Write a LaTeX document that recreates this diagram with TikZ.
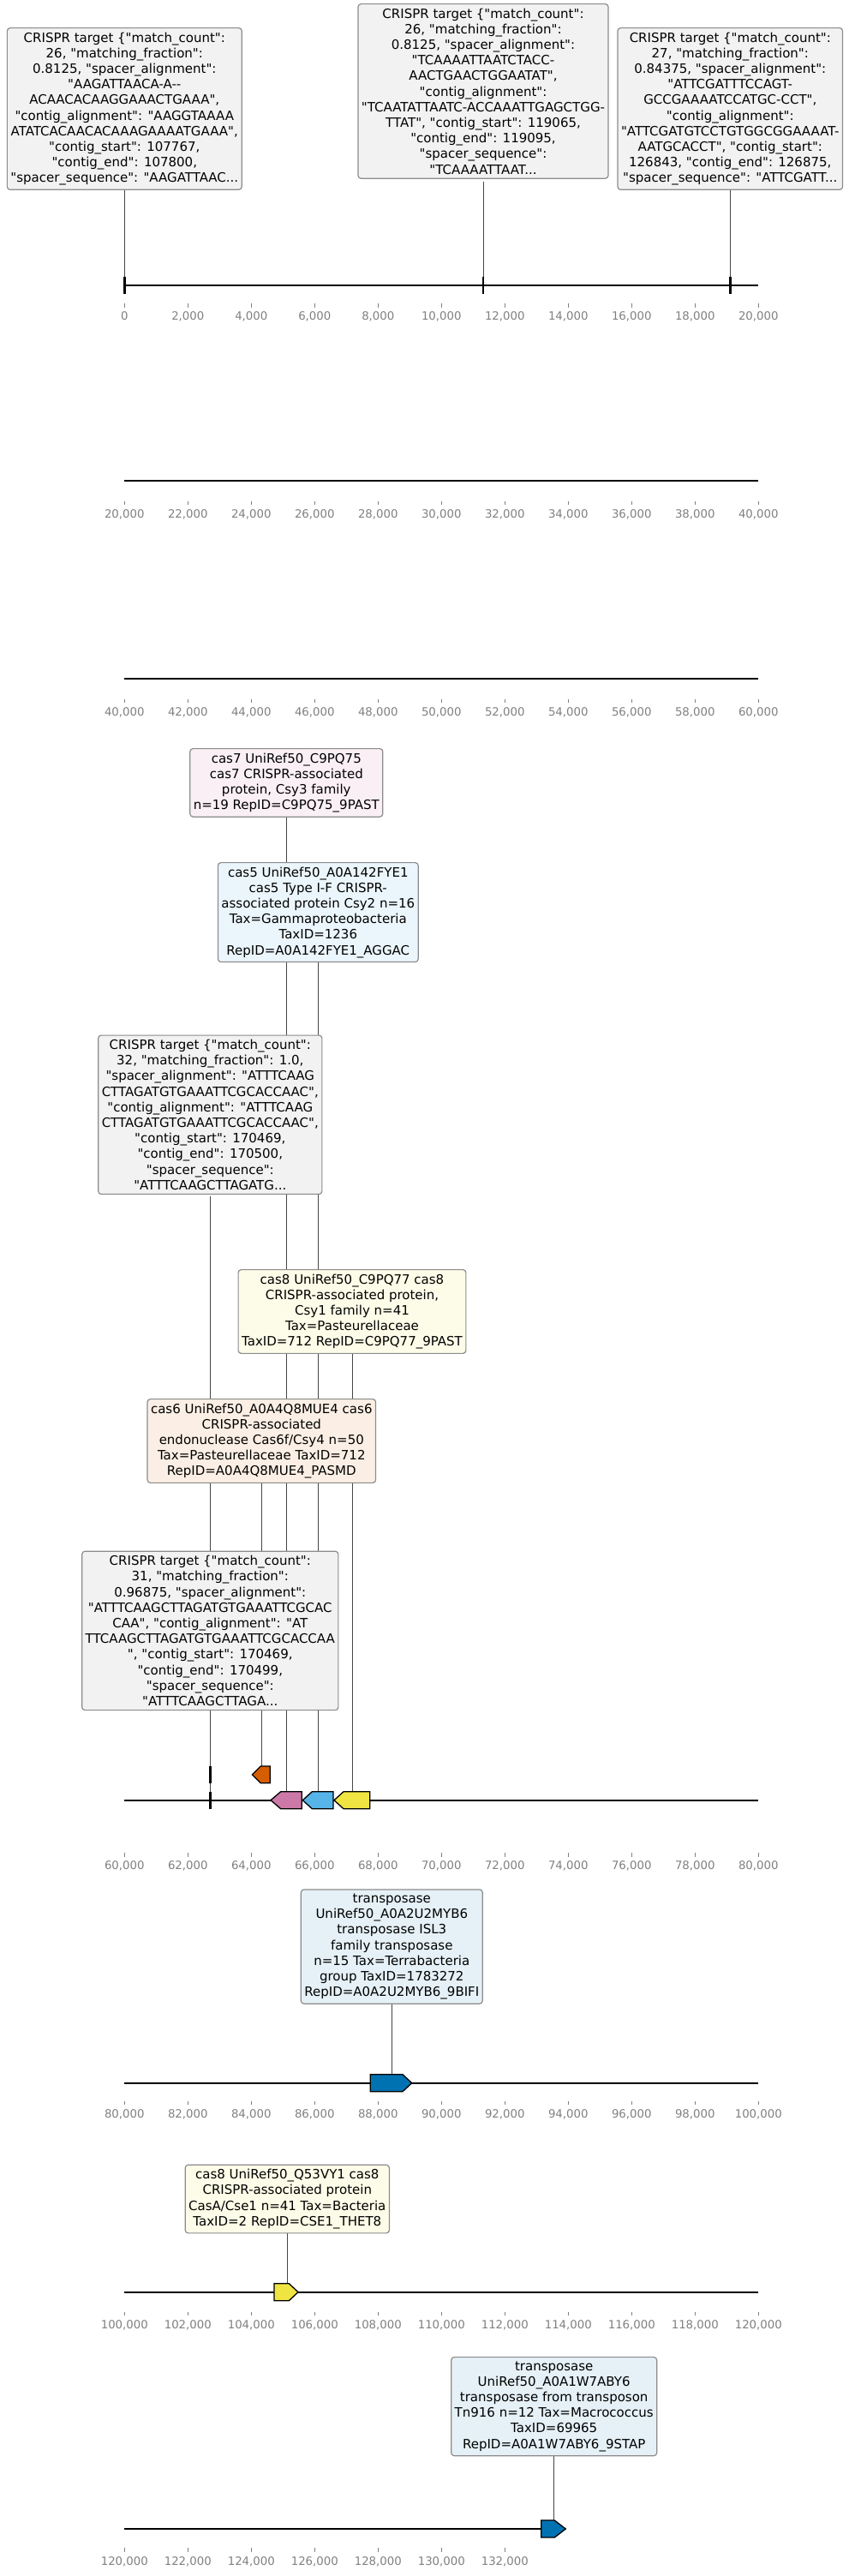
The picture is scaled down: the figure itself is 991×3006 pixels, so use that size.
\documentclass[tikz,border=0pt]{standalone}
\usepackage{fontspec}
\setmainfont{DejaVu Sans}[Ligatures=TeXOff]
\definecolor{cpink}{RGB}{204,121,167}
\definecolor{cblue}{RGB}{86,180,233}
\definecolor{cyellow}{RGB}{240,228,66}
\definecolor{corange}{RGB}{213,94,0}
\definecolor{cdblue}{RGB}{0,114,178}
\definecolor{boxedge}{RGB}{140,140,140}
\definecolor{connc}{RGB}{70,70,70}
\definecolor{tickc}{RGB}{128,128,128}
\definecolor{crfill}{RGB}{242,242,242}
\tikzset{
  lbl/.style={draw=boxedge, line width=1.2bp, rounded corners=3.5bp, align=center,
    inner xsep=4bp, inner ysep=5bp, anchor=north, text=black,
    font=\fontsize{15bp}{18.2bp}\selectfont},
  crbox/.style={lbl, fill=crfill},
  pinkbox/.style={lbl, fill=cpink!12!white},
  bluebox/.style={lbl, fill=cblue!12!white},
  yellowbox/.style={lbl, fill=cyellow!12!white},
  orangebox/.style={lbl, fill=corange!10!white},
  tnbox/.style={lbl, fill=cdblue!10!white},
  conn/.style={draw=connc, line width=0.9bp},
  seqline/.style={draw=black, line width=2.3bp},
  feat/.style={draw=black, line width=1.3bp, line join=miter},
  crmark/.style={draw=black, line width=2.4bp},
  tickl/.style={text=tickc, inner sep=0pt, font=\fontsize{13.3bp}{15bp}\selectfont},
  tickm/.style={draw=tickc, line width=0.9bp}
}
\begin{document}
\begin{tikzpicture}[x=1bp,y=-1bp]
\useasboundingbox (0,0) rectangle (991,3006);

% ---------- feature anchor coordinates ----------
\coordinate (fA) at (145.3,323);
\coordinate (fB) at (564,323);
\coordinate (fC) at (852.3,323);
\coordinate (fcr1) at (245.3,2061);
\coordinate (fcr2) at (245.3,2090.7);
\coordinate (fcas6) at (305.3,2061);
\coordinate (fcas7) at (334.3,2090.7);
\coordinate (fcas5) at (371.3,2090.7);
\coordinate (fcas8) at (411,2090.7);
\coordinate (ftnA) at (457.3,2420.7);
\coordinate (fcas8b) at (335.3,2664.7);
\coordinate (ftnB) at (646.7,2941);

% ---------- sequence axes with ticks ----------
\foreach \ly/\ty/\st/\kmax/\xend [count=\r] in
  {333/354/0/10/885.3, 561/584.5/20/10/885.3, 792/815.7/40/10/885.3,
   2100.7/2162/60/10/885.3, 2431/2451.7/80/10/885.3, 2674.7/2697.5/100/10/885.3,
   2950.7/2973.3/120/6/655}{
  \draw[seqline] (145.3,\ly) coordinate (L\r a) -- (\xend,\ly) coordinate (L\r b);
  \foreach \k in {0,...,\kmax}{
    \pgfmathtruncatemacro{\v}{\st+2*\k}
    \draw[tickm] (145.3+74*\k,\ty) -- (145.3+74*\k,\ty+4.5);
    \node[tickl, anchor=base] (t\r-\k) at (145.3+74*\k,\ty+19.8) {\ifnum\v=0 0\else\v,000\fi};
  }
}

% ---------- connectors ----------
\draw[conn] (145.3,222) -- (fA);
\draw[conn] (564,212) -- (fB);
\draw[conn] (852.3,222) -- (fC);
\draw[conn] (334.3,950) -- (fcas7);
\draw[conn] (371.3,1118) -- (fcas5);
\draw[conn] (245.3,1396) -- (fcr1);
\draw[conn] (411,1576) -- (fcas8);
\draw[conn] (305.3,1726) -- (fcas6);
\draw[conn] (245.3,1998) -- (fcr2);
\draw[conn] (457.3,2333) -- (ftnA);
\draw[conn] (335.3,2604) -- (fcas8b);
\draw[conn] (646.7,2861) -- (ftnB);

% ---------- features ----------
\draw[crmark] (145.3,323) -- (145.3,343);
\draw[crmark] (564,323) -- (564,343);
\draw[crmark] (852.3,323) -- (852.3,343);
\draw[crmark] (245.3,2061) -- (245.3,2080.7);
\draw[crmark] (245.3,2090.7) -- (245.3,2110.7);
\draw[feat, fill=corange] (294.3,2070.85) -- (304.3,2061) -- (315.3,2061) -- (315.3,2080.7) -- (304.3,2080.7) -- cycle;
\draw[feat, fill=cpink] (316,2100.7) -- (327.7,2090.7) -- (352.3,2090.7) -- (352.3,2110.7) -- (327.7,2110.7) -- cycle;
\draw[feat, fill=cblue] (353.3,2100.7) -- (364.3,2090.7) -- (389,2090.7) -- (389,2110.7) -- (364.3,2110.7) -- cycle;
\draw[feat, fill=cyellow] (390,2100.7) -- (401,2090.7) -- (431.7,2090.7) -- (431.7,2110.7) -- (401,2110.7) -- cycle;
\draw[feat, fill=cdblue] (432.3,2420.7) -- (470,2420.7) -- (480.7,2430.7) -- (470,2440.7) -- (432.3,2440.7) -- cycle;
\draw[feat, fill=cyellow] (320,2664.7) -- (337.3,2664.7) -- (348,2674.7) -- (337.3,2684.7) -- (320,2684.7) -- cycle;
\draw[feat, fill=cdblue] (631.7,2941) -- (647.3,2941) -- (660.3,2951) -- (647.3,2961) -- (631.7,2961) -- cycle;

% ---------- label boxes ----------
\node[crbox] (tA) at (145.3,32) {CRISPR target \{"match\_count":\\26, "matching\_fraction":\\0.8125, "spacer\_alignment":\\"AAGATTAACA-A-{}-\\ACAACACAAGGAAACTGAAA",\\"contig\_alignment": "AAGGTAAAA\\ATATCACAACACAAAGAAAATGAAA",\\"contig\_start": 107767,\\"contig\_end": 107800,\\"spacer\_sequence": "AAGATTAAC...};
\node[crbox] (tB) at (564,4) {CRISPR target \{"match\_count":\\26, "matching\_fraction":\\0.8125, "spacer\_alignment":\\"TCAAAATTAATCTACC-\\AACTGAACTGGAATAT",\\"contig\_alignment":\\"TCAATATTAATC-ACCAAATTGAGCTGG-\\TTAT", "contig\_start": 119065,\\"contig\_end": 119095,\\"spacer\_sequence":\\"TCAAAATTAAT...};
\node[crbox] (tC) at (852.3,32) {CRISPR target \{"match\_count":\\27, "matching\_fraction":\\0.84375, "spacer\_alignment":\\"ATTCGATTTCCAGT-\\GCCGAAAATCCATGC-CCT",\\"contig\_alignment":\\"ATTCGATGTCCTGTGGCGGAAAAT-\\AATGCACCT", "contig\_start":\\126843, "contig\_end": 126875,\\"spacer\_sequence": "ATTCGATT...};

\node[pinkbox] (cas7) at (334.3,873) {cas7 UniRef50\_C9PQ75\\cas7 CRISPR-associated\\protein, Csy3 family\\n=19 RepID=C9PQ75\_9PAST};
\node[bluebox] (cas5) at (371.3,1006) {cas5 UniRef50\_A0A142FYE1\\cas5 Type I-F CRISPR-\\associated protein Csy2 n=16\\Tax=Gammaproteobacteria\\TaxID=1236\\RepID=A0A142FYE1\_AGGAC};
\node[crbox] (cr1) at (245.3,1207.5) {CRISPR target \{"match\_count":\\32, "matching\_fraction": 1.0,\\"spacer\_alignment": "ATTTCAAG\\CTTAGATGTGAAATTCGCACCAAC",\\"contig\_alignment": "ATTTCAAG\\CTTAGATGTGAAATTCGCACCAAC",\\"contig\_start": 170469,\\"contig\_end": 170500,\\"spacer\_sequence":\\"ATTTCAAGCTTAGATG...};
\node[yellowbox] (cas8) at (411,1481) {cas8 UniRef50\_C9PQ77 cas8\\CRISPR-associated protein,\\Csy1 family n=41\\Tax=Pasteurellaceae\\TaxID=712 RepID=C9PQ77\_9PAST};
\node[orangebox] (cas6) at (305.3,1632) {cas6 UniRef50\_A0A4Q8MUE4 cas6\\CRISPR-associated\\endonuclease Cas6f/Csy4 n=50\\Tax=Pasteurellaceae TaxID=712\\RepID=A0A4Q8MUE4\_PASMD};
\node[crbox] (cr2) at (245.3,1809.6) {CRISPR target \{"match\_count":\\31, "matching\_fraction":\\0.96875, "spacer\_alignment":\\"ATTTCAAGCTTAGATGTGAAATTCGCAC\\CAA", "contig\_alignment": "AT\\TTCAAGCTTAGATGTGAAATTCGCACCAA\\", "contig\_start": 170469,\\"contig\_end": 170499,\\"spacer\_sequence":\\"ATTTCAAGCTTAGA...};

\node[tnbox] (tn1) at (457.3,2204.3) {transposase\\UniRef50\_A0A2U2MYB6\\transposase ISL3\\family transposase\\n=15 Tax=Terrabacteria\\group TaxID=1783272\\RepID=A0A2U2MYB6\_9BIFI};
\node[yellowbox] (cas8b) at (335.3,2525.7) {cas8 UniRef50\_Q53VY1 cas8\\CRISPR-associated protein\\CasA/Cse1 n=41 Tax=Bacteria\\TaxID=2 RepID=CSE1\_THET8};
\node[tnbox] (tn2) at (646.7,2750) {transposase\\UniRef50\_A0A1W7ABY6\\transposase from transposon\\Tn916 n=12 Tax=Macrococcus\\TaxID=69965\\RepID=A0A1W7ABY6\_9STAP};
\end{tikzpicture}
\end{document}
